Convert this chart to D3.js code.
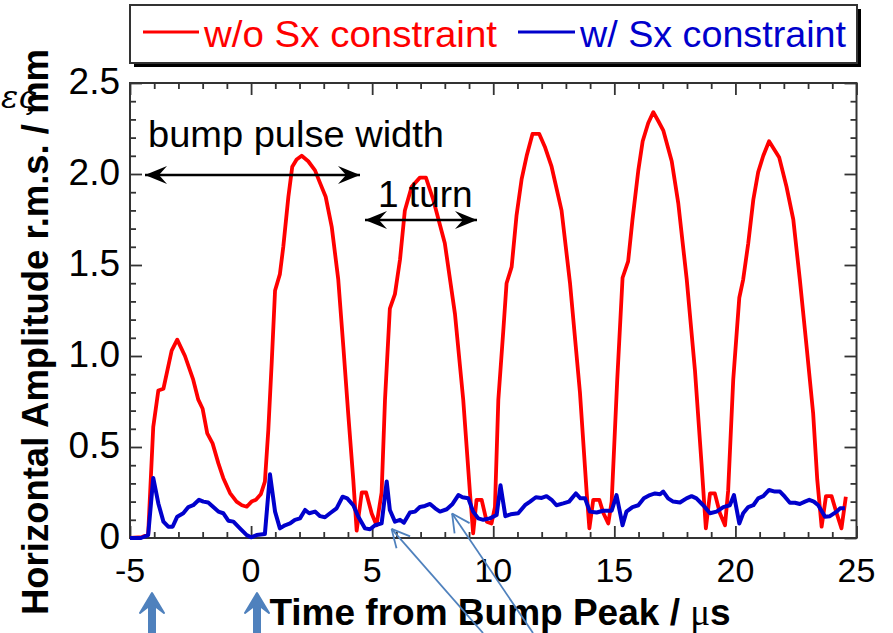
<!DOCTYPE html>
<html>
<head>
<meta charset="utf-8">
<title>Horizontal amplitude vs time from bump peak</title>
<script src="https://d3js.org/d3.v7.min.js"></script>
<style>
  body { margin: 0; background: #fff; }
  svg { display: block; font-family: "Liberation Sans", Arial, sans-serif; }
</style>
</head>
<body>
<svg width="893" height="633"></svg>
<script>
// time (us) and r.m.s. amplitude (mm)
const redT = [-5, -4.5, -4.25, -4.04, -3.83, -3.62, -3.28, -3.05, -2.73, -2.39, -2.18, -2.0, -1.81, -1.59, -1.35, -1.15, -0.87, -0.6, -0.38, -0.18,
  0.02, 0.2, 0.4, 0.57, 0.71, 0.85, 0.99, 1.19, 1.33, 1.54, 1.7, 1.88, 2.09, 2.36, 2.64, 2.85, 3.08, 3.33, 3.6, 3.81, 4.01, 4.22, 4.36,
  4.57, 4.75, 4.98, 5.18, 5.39, 5.53, 5.73, 5.94, 6.15, 6.35, 6.63, 6.97, 7.22, 7.52, 8.0, 8.42, 8.76, 9.04, 9.17,
  9.31, 9.52, 9.73, 9.93, 10.07, 10.21, 10.41, 10.55, 10.76, 10.96, 11.17, 11.38, 11.62, 11.9, 12.13, 12.41, 12.82, 13.17, 13.58, 13.86, 13.97,
  14.13, 14.38, 14.55, 14.75, 14.89, 15.12, 15.34, 15.57, 15.75, 15.99, 16.17, 16.4, 16.61, 16.82, 17.02, 17.37, 17.64, 17.99, 18.33, 18.6, 18.78,
  18.95, 19.15, 19.36, 19.57, 19.7, 19.91, 20.16, 20.32, 20.53, 20.74, 20.94, 21.15, 21.39, 21.81, 22.11, 22.39, 22.66, 22.94, 23.21, 23.38, 23.56,
  23.74, 23.97, 24.18, 24.38, 24.56];
const redV = [0, 0.005, 0.02, 0.61, 0.81, 0.82, 1.03, 1.09, 1.0, 0.87, 0.76, 0.71, 0.575, 0.52, 0.41, 0.33, 0.247, 0.2, 0.18, 0.172,
  0.2, 0.21, 0.24, 0.31, 0.59, 0.96, 1.36, 1.45, 1.6, 1.875, 2.04, 2.08, 2.1, 2.07, 2.02, 1.95, 1.875, 1.71, 1.42, 1.05, 0.685, 0.32, 0.04,
  0.25, 0.25, 0.135, 0.07, 0.25, 0.76, 1.26, 1.34, 1.53, 1.8, 1.93, 1.98, 1.98, 1.86, 1.62, 1.23, 0.76, 0.245, 0.026,
  0.21, 0.21, 0.09, 0.08, 0.17, 0.76, 1.13, 1.4, 1.49, 1.77, 1.97, 2.1, 2.22, 2.22, 2.15, 2.04, 1.8, 1.4, 0.8, 0.245, 0.053,
  0.21, 0.21, 0.136, 0.08, 0.2, 0.87, 1.43, 1.52, 1.75, 2.02, 2.18, 2.28, 2.34, 2.29, 2.24, 2.07, 1.84, 1.42, 0.92, 0.41, 0.053,
  0.245, 0.245, 0.136, 0.07, 0.26, 0.87, 1.32, 1.42, 1.62, 1.86, 2.01, 2.1, 2.18, 2.09, 1.93, 1.75, 1.42, 1.05, 0.685, 0.32, 0.062,
  0.23, 0.23, 0.136, 0.053, 0.227];

const blueT = [-5, -4.55, -4.25, -4.04, -3.83, -3.62, -3.42, -3.24, -3.05, -2.8, -2.59, -2.39, -2.15, -1.97, -1.77, -1.56, -1.35, -1.15, -0.94, -0.73, -0.46, -0.18,
  0, 0.23, 0.57, 0.78, 0.99, 1.19, 1.4, 1.61, 1.81, 2.02, 2.23, 2.4, 2.64, 2.85, 3.05, 3.26, 3.53, 3.78, 3.97, 4.22, 4.43, 4.7, 4.91,
  5.12, 5.39, 5.6, 5.73, 5.94, 6.15, 6.31, 6.56, 6.77, 6.97, 7.18, 7.39, 7.6, 7.8, 8.08, 8.32, 8.56, 8.73, 8.97, 9.17, 9.38, 9.59, 9.86,
  10.14, 10.3, 10.5, 10.72, 11.03, 11.31, 11.52, 11.76, 12.0, 12.2, 12.41, 12.61, 12.89, 13.13, 13.41, 13.6, 13.79, 13.99, 14.27, 14.54, 14.89,
  15.09, 15.34, 15.5, 15.75, 15.99, 16.22, 16.47, 16.68, 16.89, 17.02, 17.22, 17.43, 17.71, 17.98, 18.19, 18.39, 18.67, 18.95, 19.22, 19.5, 19.77,
  19.94, 20.16, 20.32, 20.53, 20.74, 20.94, 21.15, 21.39, 21.63, 21.84, 22.04, 22.25, 22.46, 22.66, 22.87, 23.05, 23.24, 23.42, 23.7, 23.9,
  24.18, 24.32, 24.52];
const blueV = [0, 0, 0.016, 0.33, 0.19, 0.09, 0.062, 0.062, 0.117, 0.136, 0.17, 0.18, 0.21, 0.2, 0.195, 0.17, 0.145, 0.136, 0.095, 0.09, 0.053, 0.016,
  0.004, 0.016, 0.022, 0.35, 0.145, 0.053, 0.07, 0.08, 0.1, 0.108, 0.154, 0.136, 0.145, 0.12, 0.114, 0.136, 0.163, 0.227, 0.218, 0.18, 0.117, 0.053, 0.048,
  0.07, 0.08, 0.31, 0.154, 0.09, 0.1, 0.084, 0.14, 0.145, 0.17, 0.176, 0.187, 0.163, 0.145, 0.158, 0.187, 0.236, 0.224, 0.218, 0.145, 0.108, 0.1, 0.108,
  0.126, 0.29, 0.12, 0.13, 0.136, 0.18, 0.2, 0.224, 0.22, 0.23, 0.21, 0.18, 0.19, 0.2, 0.245, 0.218, 0.218, 0.145, 0.14, 0.15, 0.15,
  0.236, 0.07, 0.145, 0.17, 0.18, 0.218, 0.236, 0.245, 0.24, 0.255, 0.218, 0.2, 0.195, 0.218, 0.23, 0.218, 0.18, 0.136, 0.145, 0.17, 0.18,
  0.236, 0.08, 0.136, 0.17, 0.18, 0.218, 0.23, 0.264, 0.255, 0.255, 0.227, 0.194, 0.194, 0.187, 0.2, 0.21, 0.2, 0.18, 0.117, 0.12,
  0.145, 0.163, 0.163];

const seriesNames = ["w/o Sx constraint", "w/ Sx constraint"];
const seriesColors = ["#ff0000", "#0000cc"];

const xTicks = [-5, 0, 5, 10, 15, 20, 25];
const xTickLabels = ["-5", "0", "5", "10", "15", "20", "25"];
const yTicks = [0, 0.5, 1.0, 1.5, 2.0, 2.5];
const yTickLabels = ["0", "0.5", "1.0", "1.5", "2.0", "2.5"];

const svg = d3.select("svg");
const x = d3.scaleLinear().domain([-5, 25]).range([130, 856.5]);
const y = d3.scaleLinear().domain([0, 2.5]).range([538, 83]);

const frameColor = "#333";
const xMinor = d3.range(-5, 25.01, 1).filter(v => v % 5 !== 0);
const yMinor = d3.range(0, 2.501, 0.1).filter(v => Math.abs(v * 2 - Math.round(v * 2)) > 1e-6);

// arrow markers for annotations
const defs = svg.append("defs");
["start", "end"].forEach(k => {
  defs.append("marker")
    .attr("id", "arr-" + k)
    .attr("markerUnits", "userSpaceOnUse")
    .attr("viewBox", "-24 -10 26 20")
    .attr("refX", 0).attr("refY", 0)
    .attr("markerWidth", 26).attr("markerHeight", 20)
    .attr("orient", k === "end" ? "auto" : "auto-start-reverse")
    .append("path")
    .attr("d", "M0,0 L-22,-9 L-14,0 L-22,9 Z")
    .attr("fill", "#000");
});

// ticks, drawn inward on all four sides
function tickAxis(axis, scale, vals, size, tf) {
  const g = svg.append("g").attr("transform", tf)
    .call(axis(scale).tickValues(vals).tickSize(size).tickFormat(""));
  g.select(".domain").remove();
  g.selectAll("line").attr("stroke", frameColor).attr("stroke-width", 1.8);
  return g;
}
tickAxis(d3.axisBottom, x, xTicks, -12, "translate(0,538)");
tickAxis(d3.axisBottom, x, xMinor, -6, "translate(0,538)");
tickAxis(d3.axisTop, x, xTicks, -12, "translate(0,83)");
tickAxis(d3.axisTop, x, xMinor, -6, "translate(0,83)");
tickAxis(d3.axisLeft, y, yTicks, -12, "translate(130,0)");
tickAxis(d3.axisLeft, y, yMinor, -6, "translate(130,0)");
tickAxis(d3.axisRight, y, yTicks, -12, "translate(856.5,0)");
tickAxis(d3.axisRight, y, yMinor, -6, "translate(856.5,0)");

svg.append("rect")
  .attr("x", x(-5)).attr("y", y(2.5))
  .attr("width", x(25) - x(-5)).attr("height", y(0) - y(2.5))
  .attr("fill", "none").attr("stroke", frameColor).attr("stroke-width", 2);

// tick labels
svg.append("g").selectAll("text").data(xTicks).join("text")
  .attr("x", d => x(d)).attr("y", 582)
  .attr("text-anchor", "middle").attr("font-size", 34)
  .text((d, i) => xTickLabels[i]);
svg.append("g").selectAll("text").data(yTicks).join("text")
  .attr("x", 120).attr("y", d => y(d) + 11)
  .attr("text-anchor", "end").attr("font-size", 37)
  .text((d, i) => yTickLabels[i]);

// data lines
const line = d3.line().x(d => x(d[0])).y(d => y(d[1]));
const redData = redT.map((t, i) => [t, redV[i]]);
const blueData = blueT.map((t, i) => [t, blueV[i]]);
svg.append("path").datum(redData).attr("d", line)
  .attr("fill", "none").attr("stroke", seriesColors[0]).attr("stroke-width", 3.8).attr("stroke-linejoin", "round");
svg.append("path").datum(blueData).attr("d", line)
  .attr("fill", "none").attr("stroke", seriesColors[1]).attr("stroke-width", 4).attr("stroke-linejoin", "round");

// annotations
svg.append("text").attr("x", 148).attr("y", 147).attr("font-size", 37)
  .attr("textLength", 296).attr("lengthAdjust", "spacingAndGlyphs").text("bump pulse width");
svg.append("line").attr("x1", 145).attr("y1", 175).attr("x2", 360).attr("y2", 175)
  .attr("stroke", "#000").attr("stroke-width", 2.5)
  .attr("marker-start", "url(#arr-start)").attr("marker-end", "url(#arr-end)");
svg.append("text").attr("x", 378).attr("y", 207).attr("font-size", 37).text("1 turn");
svg.append("line").attr("x1", 365).attr("y1", 220).attr("x2", 477).attr("y2", 220)
  .attr("stroke", "#000").attr("stroke-width", 2.5)
  .attr("marker-start", "url(#arr-start)").attr("marker-end", "url(#arr-end)");

// axis titles
svg.append("text")
  .attr("transform", "translate(48,615) rotate(-90)")
  .attr("font-size", 36).attr("font-weight", "bold")
  .attr("textLength", 566).attr("lengthAdjust", "spacingAndGlyphs")
  .text("Horizontal Amplitude r.m.s. / mm");
svg.append("text").attr("x", 1).attr("y", 108)
  .attr("font-family", "DejaVu Serif, serif").attr("font-style", "italic").attr("font-size", 32)
  .text("ες");
const xt = svg.append("text").attr("x", 500).attr("y", 625)
  .attr("text-anchor", "middle").attr("font-size", 37).attr("font-weight", "bold");
xt.append("tspan").text("Time from Bump Peak / ");
xt.append("tspan").attr("font-family", "Liberation Serif, serif").attr("font-weight", "normal").text("μ");
xt.append("tspan").text("s");

// legend
const lg = svg.append("g");
lg.append("rect").attr("x", 134).attr("y", 9).attr("width", 727).attr("height", 58).attr("fill", "#000");
lg.append("rect").attr("x", 130).attr("y", 5).attr("width", 727).attr("height", 58)
  .attr("fill", "#fff").attr("stroke", frameColor).attr("stroke-width", 2);
const legX = [[143, 199, 204, 293], [518, 575, 580, 266]];
seriesNames.forEach((name, i) => {
  lg.append("line").attr("x1", legX[i][0]).attr("x2", legX[i][1]).attr("y1", 32).attr("y2", 32)
    .attr("stroke", seriesColors[i]).attr("stroke-width", 3);
  lg.append("text").attr("x", legX[i][2]).attr("y", 47).attr("font-size", 37)
    .attr("textLength", legX[i][3]).attr("lengthAdjust", "spacingAndGlyphs")
    .attr("fill", seriesColors[i]).text(name);
});

// overlaid call-out arrows
const callColor = "#4f81bd";
function thinArrow(x1, y1, x2, y2) {
  svg.append("line").attr("x1", x1).attr("y1", y1).attr("x2", x2).attr("y2", y2)
    .attr("stroke", callColor).attr("stroke-width", 1.8);
  const a = Math.atan2(y1 - y2, x1 - x2);
  [-0.47, 0.47].forEach(da => {
    svg.append("line").attr("x1", x2).attr("y1", y2)
      .attr("x2", x2 + 20 * Math.cos(a + da)).attr("y2", y2 + 20 * Math.sin(a + da))
      .attr("stroke", callColor).attr("stroke-width", 1.8);
  });
}
thinArrow(483, 633, x(5.8), y(0.05));
thinArrow(533, 633, x(8.3), y(0.135));

function blockArrow(cx) {
  svg.append("path")
    .attr("d", `M${cx - 3},633 L${cx - 3},606 L${cx - 12},613 L${cx},593 L${cx + 12},613 L${cx + 3},606 L${cx + 3},633 Z`)
    .attr("fill", callColor).attr("stroke", callColor).attr("stroke-width", 2).attr("stroke-linejoin", "round");
}
blockArrow(152);
blockArrow(257);
</script>
</body>
</html>
